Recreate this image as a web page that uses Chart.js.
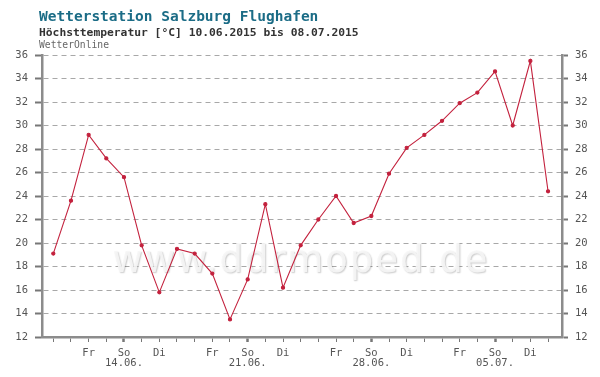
<!DOCTYPE html>
<html>
<head>
<meta charset="utf-8">
<script src="https://cdn.jsdelivr.net/npm/chart.js@4/dist/chart.umd.min.js"></script>
<style>
  html, body { margin: 0; padding: 0; background: #fff; }
  #wrap { width: 600px; height: 377px; position: relative; }
</style>
</head>
<body>
<div id="wrap"><canvas id="chart"></canvas></div>
<script>
/* Höchsttemperatur Salzburg Flughafen, 10.06.–08.07.2015 */
const title = "Wetterstation Salzburg Flughafen";
const subtitle = "Höchsttemperatur [°C] 10.06.2015 bis 08.07.2015";
const source = "WetterOnline";
const watermark = "www.ddrmoped.de";

const days = ["Mi","Do","Fr","Sa","So","Mo","Di",
              "Mi","Do","Fr","Sa","So","Mo","Di",
              "Mi","Do","Fr","Sa","So","Mo","Di",
              "Mi","Do","Fr","Sa","So","Mo","Di","Mi"];
const dates = ["10.06.","11.06.","12.06.","13.06.","14.06.","15.06.","16.06.",
               "17.06.","18.06.","19.06.","20.06.","21.06.","22.06.","23.06.",
               "24.06.","25.06.","26.06.","27.06.","28.06.","29.06.","30.06.",
               "01.07.","02.07.","03.07.","04.07.","05.07.","06.07.","07.07.","08.07."];
const shownDays = ["Fr", "So", "Di"];
const temps = [19.1, 23.6, 29.2, 27.2, 25.6, 19.8, 15.8,
               19.5, 19.1, 17.4, 13.5, 16.9, 23.3, 16.2,
               19.8, 22.0, 24.0, 21.7, 22.3, 25.9, 28.1,
               29.2, 30.4, 31.9, 32.8, 34.6, 30.0, 35.5, 24.4];
const yMin = 12, yMax = 36, yStep = 2;

const mono = "'DejaVu Sans Mono', 'Liberation Mono', monospace";
const axisGray = "#8c8c8c";

const headerPlugin = {
  id: "header",
  afterDraw(chart) {
    const ctx = chart.ctx;
    ctx.save();
    ctx.textBaseline = "alphabetic";
    ctx.textAlign = "left";
    ctx.fillStyle = "#1b6c86";
    ctx.font = "bold 14.5px " + mono;
    ctx.fillText(title, 39, 21);
    ctx.fillStyle = "#333";
    ctx.font = "bold 11.3px " + mono;
    ctx.fillText(subtitle, 39, 36);
    ctx.fillStyle = "#666";
    ctx.font = "9.7px " + mono;
    ctx.fillText(source, 39, 48);
    ctx.restore();
  }
};

const watermarkPlugin = {
  id: "watermark",
  beforeDatasetsDraw(chart) {
    const ctx = chart.ctx;
    ctx.save();
    ctx.font = "37px 'DejaVu Sans', sans-serif";
    ctx.letterSpacing = "2px";
    ctx.textAlign = "center";
    ctx.textBaseline = "alphabetic";
    ctx.shadowColor = "rgba(0,0,0,0.22)";
    ctx.shadowOffsetX = 1;
    ctx.shadowOffsetY = 1;
    ctx.shadowBlur = 1.5;
    ctx.fillStyle = "rgba(246,246,246,0.9)";
    ctx.fillText(watermark, 301, 272);
    ctx.restore();
  }
};

new Chart(document.getElementById("chart"), {
  type: "line",
  data: {
    datasets: [{
      data: temps.map((v, i) => ({ x: i, y: v })),
      borderColor: "#c3213d",
      backgroundColor: "#c3213d",
      borderWidth: 1.1,
      pointRadius: 1.6,
      pointHoverRadius: 1.6,
      tension: 0,
      yAxisID: "y"
    }]
  },
  options: {
    responsive: true,
    maintainAspectRatio: false,
    animation: false,
    events: [],
    layout: { padding: { top: 55, left: 0, right: 0, bottom: 0 } },
    plugins: { legend: { display: false }, tooltip: { enabled: false } },
    scales: {
      x: {
        type: "linear",
        min: -0.64,
        max: 28.79,
        afterFit: s => { s.height = 40; },
        afterBuildTicks: s => { s.ticks = days.map((_, i) => ({ value: i })); },
        ticks: {
          autoSkip: false,
          maxRotation: 0,
          padding: 6,
          color: "#555",
          font: { family: mono, size: 10.5, lineHeight: 1.0 },
          callback: v => {
            const d = days[v];
            if (d === "So") return [d, dates[v]];
            return shownDays.includes(d) ? d : "";
          }
        },
        grid: {
          drawOnChartArea: false,
          drawTicks: true,
          tickLength: 5,
          tickColor: "#777",
          tickWidth: c => (days[c.index] === "So" ? 2.5 : 1)
        },
        border: { color: axisGray, width: 2.5 }
      },
      y: {
        position: "left",
        min: yMin,
        max: yMax,
        afterFit: s => { s.width = 42; },
        ticks: {
          stepSize: yStep,
          padding: 7,
          color: "#555",
          font: { family: mono, size: 10.5 }
        },
        grid: {
          color: "#a8a8a8",
          lineWidth: 1,
          tickLength: 7,
          tickColor: "#777",
          tickWidth: 2
        },
        border: { color: axisGray, width: 2.5, dash: [5, 4] }
      },
      y2: {
        position: "right",
        min: yMin,
        max: yMax,
        afterFit: s => { s.width = 38; },
        ticks: {
          stepSize: yStep,
          padding: 7,
          color: "#555",
          font: { family: mono, size: 10.5 }
        },
        grid: {
          drawOnChartArea: false,
          tickLength: 6,
          tickColor: "#777",
          tickWidth: 2
        },
        border: { color: axisGray, width: 2.5 }
      }
    }
  },
  plugins: [watermarkPlugin, headerPlugin]
});
</script>
</body>
</html>
